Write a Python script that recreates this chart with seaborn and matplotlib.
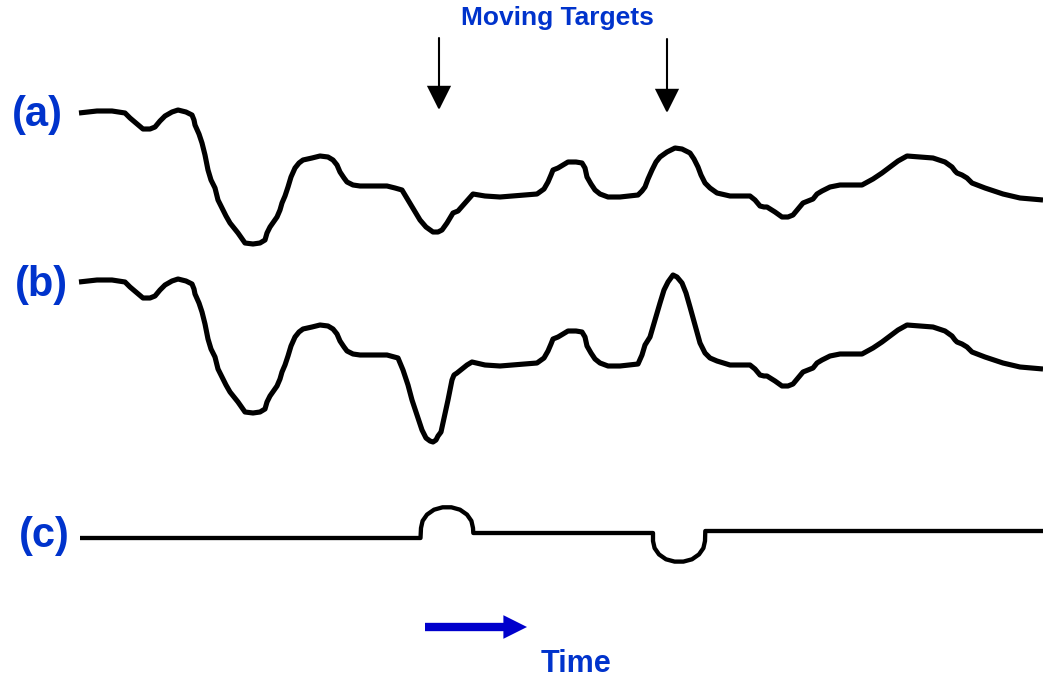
import matplotlib
matplotlib.use("Agg")
import matplotlib.pyplot as plt
import numpy as np
import pandas as pd
import seaborn as sns

# ---- clutter echo, frame (a): time sample and amplitude (up = positive)
echo_t = [79, 97, 112, 125, 130, 137, 143, 150, 155, 160, 165, 172, 178, 186, 192,
          194, 195, 199, 202, 205, 208, 211, 215, 218, 222, 226, 230, 238, 245, 253,
          260, 265, 267, 270, 277, 280, 282, 285, 288, 291, 295, 299, 303, 312, 320,
          328, 333, 337, 340, 344, 347, 353, 360, 375, 387, 395, 402, 405, 408, 414,
          420, 426, 433, 438, 442, 447, 453, 458, 465, 473, 485, 500, 512, 523, 537,
          544, 548, 551, 553, 558, 563, 568, 576, 582, 585, 587, 591, 595, 600, 608,
          620, 638, 642, 645, 648, 652, 656, 660, 667, 675, 682, 690, 694, 698, 701,
          705, 710, 717, 730, 750, 755, 760, 764, 767, 775, 782, 788, 793, 798, 803,
          808, 813, 817, 822, 830, 840, 862, 873, 882, 890, 898, 907, 920, 933, 945,
          952, 955, 957, 962, 967, 972, 985, 1003, 1020, 1043]
echo_a = [77, 79, 79, 77, 72, 66, 61, 61, 63, 69, 74, 78, 80, 78, 75,
          70, 65, 56, 47, 35, 20, 10, 2, -10, -18, -26, -33, -43, -53, -54,
          -53, -50, -43, -37, -27, -20, -13, -6, 3, 13, 22, 27, 30, 32, 34,
          33, 30, 25, 18, 12, 8, 5, 4, 4, 4, 2, 0, -5, -10, -20,
          -30, -37, -42, -42, -40, -33, -23, -21, -13, -4, -6, -7, -6, -5, -4,
          1, 8, 15, 20, 22, 25, 28, 28, 27, 22, 13, 6, 0, -4, -7,
          -7, -5, -1, 3, 11, 20, 28, 33, 38, 42, 41, 37, 31, 23, 15,
          7, 2, -3, -6, -6, -10, -16, -17, -17, -22, -27, -27, -25, -19, -13,
          -11, -9, -4, -1, 3, 5, 5, 11, 17, 23, 29, 34, 33, 32, 28,
          23, 19, 17, 15, 12, 7, 2, -4, -8, -10]

# ---- frame (b): the two moving targets change the echo locally
dip_t = [398, 403, 408, 412, 417, 422, 426, 430, 433, 436, 438, 441, 443, 446, 448,
         450, 452, 454, 457, 462, 467, 472]
dip_b = [1, -11, -26, -41, -56, -71, -79, -82, -83, -81, -77, -73, -64, -51, -41,
         -31, -21, -16, -14, -10, -6, -3]
peak_t = [642, 645, 650, 655, 660, 664, 668, 673, 677, 682, 686, 690, 695, 700, 705,
          710, 717]
peak_b = [4, 14, 22, 39, 56, 69, 77, 84, 82, 76, 66, 52, 34, 16, 6, 1, -2]

# ---- (c): difference of the two frames
diff_t = [80, 420.5, 421, 422.6, 427, 434, 442.6, 451.4, 460, 467, 471.4, 473, 473.3,
          653, 653, 654.6, 659, 666, 674.6, 683.4, 692, 699, 703.4, 705, 705.3, 1043]
diff_c = [0, 0, 10, 17.1, 23.4, 28.3, 30.7, 30.7, 28.3, 23.4, 17.1, 10, 5,
          5, -3, -10.1, -16.4, -21.3, -23.6, -23.6, -21.3, -16.4, -10.1, -3, 7, 7]

# vertical placement of each trace
offsets = {"(a)": -190, "(b)": -359, "(c)": -538}

# assemble frame (b): clutter outside the target windows, targets inside
b_pts = [(t, v) for t, v in zip(echo_t, echo_a)
         if not (395 <= t < 485 or 638 < t < 730)]
b_pts += list(zip(dip_t, dip_b)) + list(zip(peak_t, peak_b))
b_pts.sort()

frames = []
frames.append(pd.DataFrame({"t": echo_t, "v": np.array(echo_a) + offsets["(a)"], "trace": "(a)"}))
frames.append(pd.DataFrame({"t": [p[0] for p in b_pts],
                            "v": np.array([p[1] for p in b_pts]) + offsets["(b)"], "trace": "(b)"}))
frames.append(pd.DataFrame({"t": diff_t, "v": np.array(diff_c) + offsets["(c)"], "trace": "(c)"}))
df = pd.concat(frames, ignore_index=True)

sns.set_theme(style="white")
plt.rcParams["font.family"] = ["Liberation Sans", "DejaVu Sans"]

fig = plt.figure(figsize=(10.43, 6.79), dpi=100)
ax = fig.add_axes([0, 0, 1, 1])

for name, sub in df.groupby("trace"):
    sns.lineplot(data=sub, x="t", y="v", sort=False, estimator=None, ax=ax,
                 color="black", linewidth=3.7 if name != "(c)" else 3.1,
                 solid_joinstyle="round", solid_capstyle="butt", legend=False)

ax.set_xlim(0, 1043)
ax.set_ylim(-679, 0)
ax.set_axis_off()

blue = "#0033CC"
label_x = {"(a)": 37, "(b)": 41, "(c)": 44}
label_y = {"(a)": -115, "(b)": -285, "(c)": -536}
for name in ["(a)", "(b)", "(c)"]:
    ax.text(label_x[name], label_y[name], name, fontsize=30, fontweight="bold",
            color=blue, ha="center", va="center")

ax.text(557, -18, "Moving Targets", fontsize=19, fontweight="bold", color=blue,
        ha="center", va="center")

# arrows pointing at the targets
for x, y0, y1 in [(439, -38, -110), (667, -39, -113)]:
    ax.annotate("", xy=(x, y1), xytext=(x, y0),
                arrowprops=dict(arrowstyle="-|>,head_length=1.0,head_width=0.5",
                                mutation_scale=15, lw=1.5, color="black",
                                joinstyle="miter", shrinkA=0, shrinkB=0))

# time direction
ax.annotate("", xy=(527, -627), xytext=(425, -627),
            arrowprops=dict(arrowstyle="simple,head_length=0.85,head_width=0.85,tail_width=0.3",
                            mutation_scale=20, lw=0, color="#0000CC",
                            shrinkA=0, shrinkB=0))
ax.text(576, -664, "Time", fontsize=22, fontweight="bold", color=blue,
        ha="center", va="center")

fig.savefig("out.png", dpi=100)
